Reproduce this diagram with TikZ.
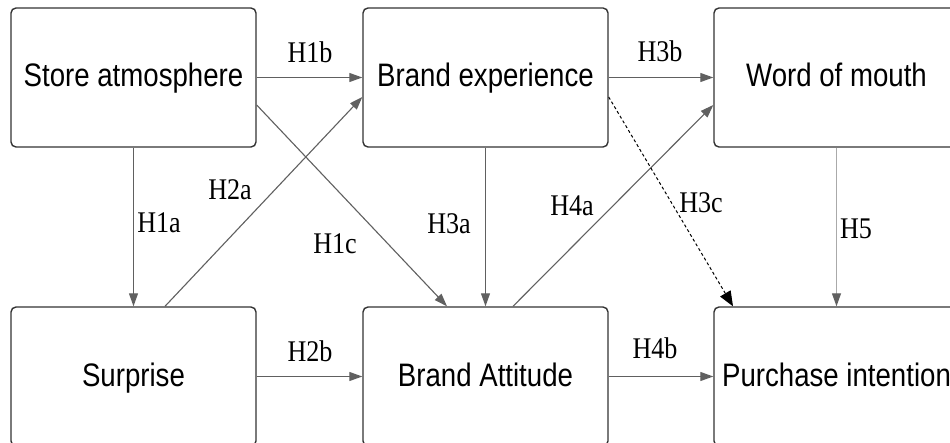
\documentclass[tikz,border=0pt]{standalone}
\usepackage{fontspec}
\setmainfont{Liberation Sans}
\newfontfamily\boxfont{Liberation Sans}[FakeStretch=0.85]
\newfontfamily\labfont{Liberation Serif}[FakeStretch=0.87]
\usetikzlibrary{arrows.meta}
\definecolor{boxline}{HTML}{333333}
\definecolor{arrline}{HTML}{606060}
\definecolor{lightline}{HTML}{AAAAAA}
\tikzset{
  box/.style={draw=boxline, line width=1.4pt, rounded corners=5pt, minimum width=245pt, minimum height=139pt, inner sep=0pt, text height=23.5pt, text depth=4.5pt, font=\boxfont\fontsize{32.5}{36}\selectfont, text=black},
  conn/.style={draw=arrline, line width=1.1pt, -{Triangle[length=13pt,width=9pt]}},
  lightconn/.style={draw=lightline, line width=1.1pt, -{Triangle[length=13pt,width=9pt,color=arrline]}},
  dashconn/.style={draw=black, line width=1pt, dash pattern=on 3pt off 2.5pt, -{Triangle[length=15pt,width=12pt]}},
  lab/.style={inner sep=0pt, font=\labfont\fontsize{30}{32}\selectfont, text=black}
}
\begin{document}
\begin{tikzpicture}[x=1pt,y=-1pt]
\useasboundingbox (0,0) rectangle (950,443);
\clip (0,0) rectangle (950,443);
\fill[white] (0,0) rectangle (950,443);
% boxes
\node[box] (sa) at (133.5,77.5) {Store atmosphere};
\node[box] (be) at (485.5,77.5) {Brand experience};
\node[box] (wom) at (836.5,77.5) {Word of mouth};
\node[box] (sur) at (133.5,376.5) {Surprise};
\node[box] (ba) at (485.5,376.5) {Brand Attitude};
\node[box] (pi) at (836.5,376.5) {Purchase intention};
% horizontal arrows
\draw[conn] (sa.east) -- (be.west);
\draw[conn] (be.east) -- (wom.west);
\draw[conn] (sur.east) -- (ba.west);
\draw[conn] (ba.east) -- (pi.west);
% vertical arrows
\draw[conn] (sa.south) -- (sur.north);
\draw[conn] (be.south) -- (ba.north);
\draw[lightconn] (wom.south) -- (pi.north);
% diagonal arrows
\draw[conn] ([xshift=31.5pt]sur.north) -- ([yshift=-19.5pt]be.west);
\draw[conn] ([yshift=-27.5pt]sa.east) -- ([xshift=-38.5pt]ba.north);
\draw[conn] ([xshift=27.5pt]ba.north) -- ([yshift=-27.5pt]wom.west);
\draw[dashconn] ([yshift=-19.5pt]be.east) -- ([xshift=-103.5pt]pi.north);
% labels
\node[lab] (l1b) at (310,52) {H1b};
\node[lab] (l3b) at (660,51) {H3b};
\node[lab] (l2b) at (310,351) {H2b};
\node[lab] (l4b) at (655,348) {H4b};
\node[lab] (l1a) at (159,223) {H1a};
\node[lab] (l2a) at (230,190) {H2a};
\node[lab] (l1c) at (335,244) {H1c};
\node[lab] (l3a) at (449,224) {H3a};
\node[lab] (l4a) at (572,206) {H4a};
\node[lab] (l3c) at (701,203) {H3c};
\node[lab] (l5) at (856,229) {H5};
\end{tikzpicture}
\end{document}
